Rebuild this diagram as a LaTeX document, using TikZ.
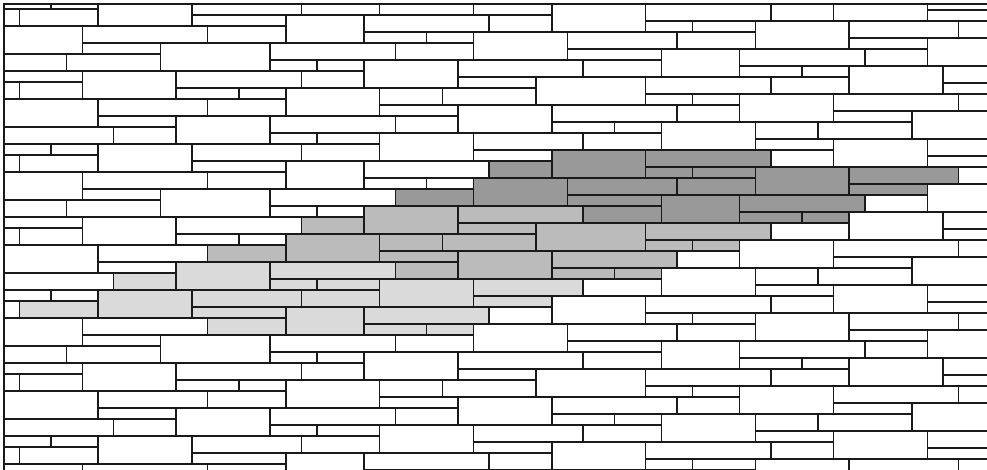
\documentclass[tikz,border=0pt]{standalone}
\definecolor{lightg}{HTML}{DADADA}
\definecolor{midg}{HTML}{BBBBBB}
\definecolor{darkg}{HTML}{999999}
\definecolor{edgecol}{HTML}{1A1A1A}
\tikzset{brick/.style={draw=edgecol, line width=1.5pt}}
\def\uu{15.65}
% y levels: A=0 B=11 C=17 D=28 E=34 F=39 G=45 H=56 I=62 J=73
\newcommand\brk[4]{\filldraw[brick, fill=\tilecolour] ({#1*\uu},#3) rectangle ({#2*\uu},#4);}
\newcommand\brickunitA{%
\brk{0}{5}{39}{56}
\brk{5}{11}{28}{56}
\brk{6}{10}{11}{28}
\brk{10}{16}{0}{28}
\brk{11}{15}{28}{45}
\brk{15}{21}{28}{45}
\brk{11}{16}{45}{56}
\brk{12}{16}{56}{73}
\brk{16}{21}{17}{28}
\brk{16}{24}{0}{17}
\brk{16}{22}{45}{73}
\brk{21}{28}{17}{45}
\brk{22}{30}{45}{62}
\brk{22}{26}{62}{73}
\brk{26}{29}{62}{73}
\brk{28}{36}{17}{34}
\brk{28}{31}{34}{45}
\brk{31}{34}{34}{45}
}
\newcommand\brickunitB{%
\brk{0}{5}{39}{56}
\brk{5}{11}{28}{56}
\brk{6}{10}{11}{28}
\brk{10}{16}{0}{28}
\brk{11}{18}{28}{45}
\brk{18}{23}{28}{45}
\brk{11}{17}{45}{56}
\brk{12}{17}{56}{73}
\brk{16}{19}{17}{28}
\brk{19}{23}{17}{28}
\brk{16}{24}{0}{17}
\brk{17}{22}{45}{73}
\brk{23}{29}{17}{45}
\brk{29}{36}{17}{34}
\brk{29}{34}{34}{45}
\brk{22}{30}{45}{62}
\brk{22}{26}{62}{73}
\brk{26}{29}{62}{73}
}
\begin{document}
\begin{tikzpicture}[x=1pt,y=-1pt]
\useasboundingbox (0,0) rectangle (987,470);
\fill[white] (0,0) rectangle (987,470);
\begin{scope}
\clip (4,4) rectangle (995,480);
\foreach \i in {-4,...,5}{
 \foreach \j in {-4,...,4}{
  \pgfmathsetmacro\ox{207.5+12*\uu*\i}
  \pgfmathsetmacro\oy{206-56*\i+146*\j}
  \def\tilecolour{white}
  \ifnum\j=0
    \ifnum\i=-1 \def\tilecolour{lightg}\fi
    \ifnum\i=0 \def\tilecolour{midg}\fi
    \ifnum\i=1 \def\tilecolour{darkg}\fi
  \fi
  \begin{scope}[shift={(\ox,\oy)}]
    \ifodd\i \brickunitB \else \brickunitA \fi
  \end{scope}
 }}
\end{scope}
\draw[brick] (4,480) -- (4,4) -- (995,4);
\end{tikzpicture}
\end{document}
